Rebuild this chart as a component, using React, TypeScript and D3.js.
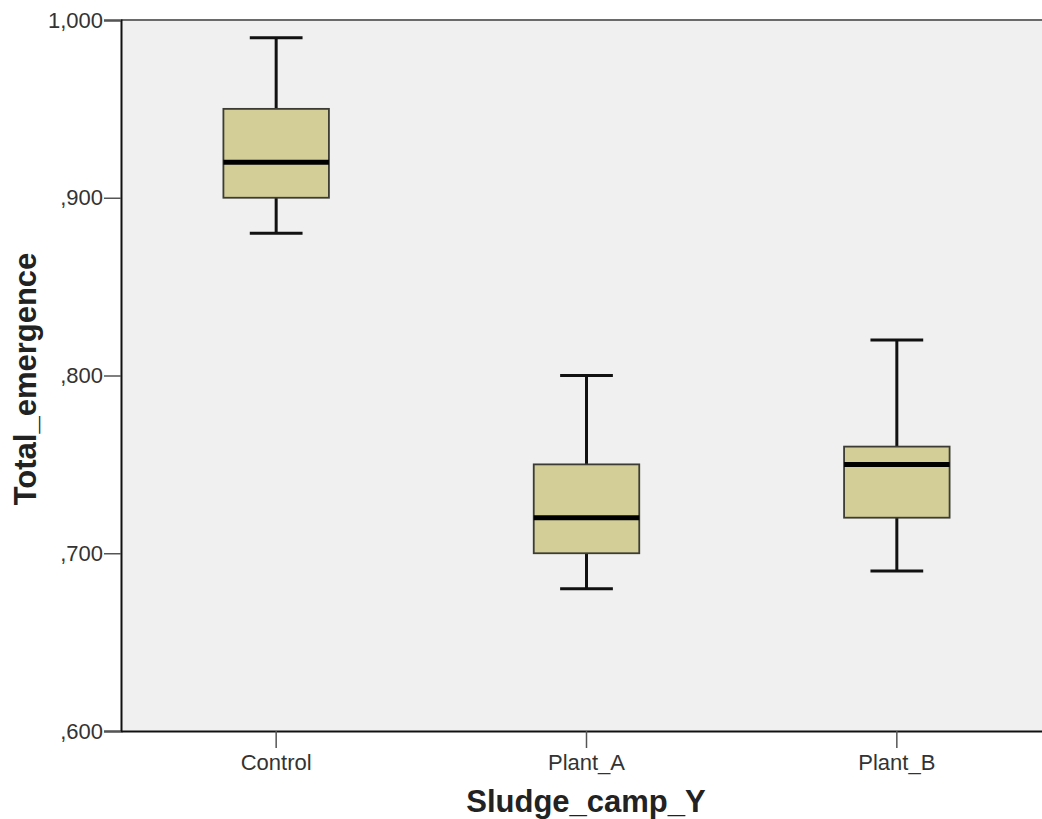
import React, { useEffect, useRef } from "react";
import * as d3 from "d3";

// box plot summaries
const categories = ["Control", "Plant_A", "Plant_B"];
const whiskerLow = [0.88, 0.68, 0.69];
const q1 = [0.9, 0.7, 0.72];
const median = [0.92, 0.72, 0.75];
const q3 = [0.95, 0.75, 0.76];
const whiskerHigh = [0.99, 0.8, 0.82];
const yTicks = [0.6, 0.7, 0.8, 0.9, 1.0];

const width = 1042;
const height = 819;
const margin = { top: 20, right: -10, bottom: 88, left: 121 };
const font = "Liberation Sans, Arial, sans-serif";

export default function App() {
  const ref = useRef<SVGSVGElement>(null);

  useEffect(() => {
    const svg = d3.select(ref.current);
    svg.selectAll("*").remove();

    const x = d3
      .scaleBand()
      .domain(categories)
      .range([margin.left, width - margin.right])
      .paddingInner(0)
      .paddingOuter(0);
    const y = d3
      .scaleLinear()
      .domain([0.6, 1.0])
      .range([height - margin.bottom, margin.top]);

    const fmt = (v: number) => (v < 1 ? d3.format(".3f")(v).replace("0.", ",") : "1,000");

    // plot background
    svg
      .append("rect")
      .attr("x", margin.left)
      .attr("y", margin.top)
      .attr("width", width - margin.right - margin.left)
      .attr("height", height - margin.bottom - margin.top)
      .attr("fill", "#f0f0f0");

    // top frame line
    svg
      .append("line")
      .attr("x1", margin.left)
      .attr("x2", width)
      .attr("y1", margin.top)
      .attr("y2", margin.top)
      .attr("stroke", "#6a6a6a")
      .attr("stroke-width", 2);

    const data = categories.map((c, i) => ({
      c,
      lo: whiskerLow[i],
      q1: q1[i],
      med: median[i],
      q3: q3[i],
      hi: whiskerHigh[i],
    }));

    const boxW = x.bandwidth() * 0.34;
    const capW = x.bandwidth() * 0.17;

    const g = svg.selectAll("g.box").data(data).enter().append("g");
    const cx = (d: any) => (x(d.c) as number) + x.bandwidth() / 2;

    // whiskers
    g.append("line")
      .attr("x1", cx)
      .attr("x2", cx)
      .attr("y1", (d) => y(d.hi))
      .attr("y2", (d) => y(d.q3))
      .attr("stroke", "#111")
      .attr("stroke-width", 3);
    g.append("line")
      .attr("x1", cx)
      .attr("x2", cx)
      .attr("y1", (d) => y(d.q1))
      .attr("y2", (d) => y(d.lo))
      .attr("stroke", "#111")
      .attr("stroke-width", 3);
    // caps
    [(d: any) => d.hi, (d: any) => d.lo].forEach((acc) => {
      g.append("line")
        .attr("x1", (d) => cx(d) - capW / 2)
        .attr("x2", (d) => cx(d) + capW / 2)
        .attr("y1", (d) => y(acc(d)))
        .attr("y2", (d) => y(acc(d)))
        .attr("stroke", "#111")
        .attr("stroke-width", 3);
    });
    // box
    g.append("rect")
      .attr("x", (d) => cx(d) - boxW / 2)
      .attr("y", (d) => y(d.q3))
      .attr("width", boxW)
      .attr("height", (d) => y(d.q1) - y(d.q3))
      .attr("fill", "#d3ce97")
      .attr("stroke", "#3c3c34")
      .attr("stroke-width", 1.8);
    // median
    g.append("line")
      .attr("x1", (d) => cx(d) - boxW / 2)
      .attr("x2", (d) => cx(d) + boxW / 2)
      .attr("y1", (d) => y(d.med))
      .attr("y2", (d) => y(d.med))
      .attr("stroke", "#000")
      .attr("stroke-width", 5);

    // y axis
    const yAxis = svg
      .append("g")
      .attr("transform", `translate(${margin.left},0)`)
      .call(d3.axisLeft(y).tickValues(yTicks).tickFormat((v) => fmt(v as number)).tickSize(17).tickPadding(1));
    yAxis.select(".domain").attr("stroke", "#111").attr("stroke-width", 2);
    yAxis.selectAll(".tick line").attr("stroke", "#555").attr("stroke-width", 1.5);
    yAxis
      .selectAll(".tick text")
      .attr("fill", "#333")
      .attr("font-size", 22)
      .attr("font-family", font);

    // x axis
    const xAxis = svg
      .append("g")
      .attr("transform", `translate(0,${height - margin.bottom})`)
      .call(d3.axisBottom(x).tickSize(17).tickPadding(6).tickSizeOuter(0));
    xAxis.select(".domain").attr("stroke", "#111").attr("stroke-width", 2);
    xAxis.selectAll(".tick line").attr("stroke", "#555").attr("stroke-width", 1.5);
    xAxis
      .selectAll(".tick text")
      .attr("fill", "#333")
      .attr("font-size", 22)
      .attr("font-family", font);

    // axis titles
    svg
      .append("text")
      .attr("x", 586)
      .attr("y", 812)
      .attr("text-anchor", "middle")
      .attr("font-size", 31)
      .attr("font-weight", "bold")
      .attr("fill", "#222")
      .attr("font-family", font)
      .text("Sludge_camp_Y");
    svg
      .append("text")
      .attr("transform", `translate(36,379) rotate(-90)`)
      .attr("text-anchor", "middle")
      .attr("font-size", 31)
      .attr("font-weight", "bold")
      .attr("fill", "#222")
      .attr("font-family", font)
      .text("Total_emergence");
  }, []);

  return (
    <svg
      ref={ref}
      width={width}
      height={height}
      style={{ position: "absolute", left: 0, top: 0, background: "#fff" }}
    />
  );
}
